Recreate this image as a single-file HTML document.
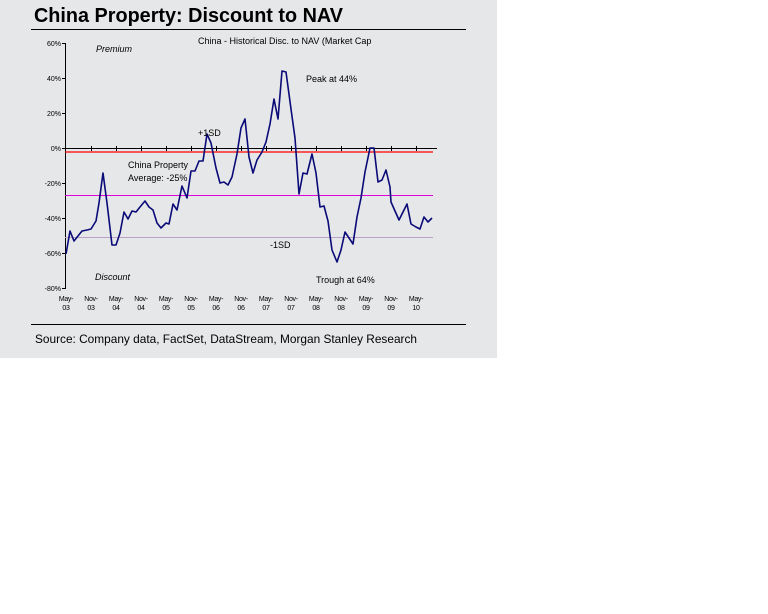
<!DOCTYPE html>
<html><head><style>
body{margin:0;background:#fff;width:768px;height:614px;overflow:hidden}
svg{display:block}
text{font-family:"Liberation Sans",sans-serif}
</style></head><body>
<svg width="768" height="614" xmlns="http://www.w3.org/2000/svg">
<rect x="0" y="0" width="497" height="358" fill="#e6e7e9"/>
<text x="34" y="22" font-size="20" font-weight="bold" fill="#000" textLength="309" lengthAdjust="spacingAndGlyphs">China Property: Discount to NAV</text>
<line x1="31" y1="29.5" x2="466" y2="29.5" stroke="#000" stroke-width="1"/>
<line x1="31" y1="324.5" x2="466" y2="324.5" stroke="#000" stroke-width="1"/>
<text x="35" y="343" font-size="11.7" fill="#000" textLength="382" lengthAdjust="spacingAndGlyphs">Source: Company data, FactSet, DataStream, Morgan Stanley Research</text>
<!-- axes -->
<line x1="65.5" y1="43" x2="65.5" y2="289" stroke="#000"/>
<g stroke="#000">
<line x1="62" y1="43.5" x2="65" y2="43.5"/><line x1="62" y1="78.5" x2="65" y2="78.5"/><line x1="62" y1="113.5" x2="65" y2="113.5"/><line x1="62" y1="148.5" x2="65" y2="148.5"/><line x1="62" y1="183.5" x2="65" y2="183.5"/><line x1="62" y1="218.5" x2="65" y2="218.5"/><line x1="62" y1="253.5" x2="65" y2="253.5"/><line x1="62" y1="288.5" x2="65" y2="288.5"/>
</g>
<g font-size="7" fill="#000" text-anchor="end">
<text x="61" y="46">60%</text><text x="61" y="81">40%</text><text x="61" y="116">20%</text><text x="61" y="151">0%</text><text x="61" y="186">-20%</text><text x="61" y="221">-40%</text><text x="61" y="256">-60%</text><text x="61" y="291">-80%</text>
</g>
<line x1="65" y1="148.5" x2="437" y2="148.5" stroke="#000"/>
<g stroke="#000">
<line x1="91.5" y1="146" x2="91.5" y2="151"/><line x1="116.5" y1="146" x2="116.5" y2="151"/><line x1="141.5" y1="146" x2="141.5" y2="151"/><line x1="166.5" y1="146" x2="166.5" y2="151"/><line x1="191.5" y1="146" x2="191.5" y2="151"/><line x1="216.5" y1="146" x2="216.5" y2="151"/><line x1="241.5" y1="146" x2="241.5" y2="151"/><line x1="266.5" y1="146" x2="266.5" y2="151"/><line x1="291.5" y1="146" x2="291.5" y2="151"/><line x1="316.5" y1="146" x2="316.5" y2="151"/><line x1="341.5" y1="146" x2="341.5" y2="151"/><line x1="366.5" y1="146" x2="366.5" y2="151"/><line x1="391.5" y1="146" x2="391.5" y2="151"/><line x1="416.5" y1="146" x2="416.5" y2="151"/>
</g>
<line x1="65" y1="152" x2="433" y2="152" stroke="#ff0000" stroke-width="1.3"/>
<line x1="65" y1="195.5" x2="433" y2="195.5" stroke="#dd00dd" stroke-width="1"/>
<line x1="65" y1="237.5" x2="433" y2="237.5" stroke="#b9a0c8" stroke-width="1"/>
<g font-size="7" fill="#000" text-anchor="middle" letter-spacing="-0.3">
<text x="66" y="301">May-</text><text x="66" y="310">03</text>
<text x="91" y="301">Nov-</text><text x="91" y="310">03</text>
<text x="116" y="301">May-</text><text x="116" y="310">04</text>
<text x="141" y="301">Nov-</text><text x="141" y="310">04</text>
<text x="166" y="301">May-</text><text x="166" y="310">05</text>
<text x="191" y="301">Nov-</text><text x="191" y="310">05</text>
<text x="216" y="301">May-</text><text x="216" y="310">06</text>
<text x="241" y="301">Nov-</text><text x="241" y="310">06</text>
<text x="266" y="301">May-</text><text x="266" y="310">07</text>
<text x="291" y="301">Nov-</text><text x="291" y="310">07</text>
<text x="316" y="301">May-</text><text x="316" y="310">08</text>
<text x="341" y="301">Nov-</text><text x="341" y="310">08</text>
<text x="366" y="301">May-</text><text x="366" y="310">09</text>
<text x="391" y="301">Nov-</text><text x="391" y="310">09</text>
<text x="416" y="301">May-</text><text x="416" y="310">10</text>
</g>
<polyline fill="none" stroke="#0a0a78" stroke-width="1.6" stroke-linejoin="round" points="66,254 70,231 74,241 78,236 82,231 87,230 91,229 96,221 99,203 103,173 107,203 112,245 116,245 120,233 124,212 128,219 132,211 136,212 140,207 145,201 149,207 153,210 157,223 161,228 166,223 169,224 173,204 177,210 182,186 187,198 191,171 195,171 199,161 203,161 207,134 211,143 216,168 220,183 224,182 228,185 232,177 237,154 241,128 245,119 249,157 253,173 257,160 262,152 266,142 270,124 274,99 278,119 282,71 286,72 291,109 295,138 299,194 303,173 307,174 312,154 316,173 320,207 324,206 328,221 332,250 337,262 341,250 345,232 349,238 353,244 357,217 361,198 365,172 370,148 374,148 378,182 382,180 386,170 390,187 391,202 399,220 407,204 411,224 416,227 420,229 424,217 428,222 432,218"/>
<g font-size="9" fill="#000">
<text x="96" y="52" font-style="italic">Premium</text>
<text x="198" y="44">China - Historical Disc. to NAV (Market Cap</text>
<text x="306" y="82">Peak at 44%</text>
<text x="198" y="136">+1SD</text>
<text x="128" y="168">China Property</text>
<text x="128" y="181">Average: -25%</text>
<text x="270" y="248">-1SD</text>
<text x="95" y="280" font-style="italic">Discount</text>
<text x="316" y="283">Trough at 64%</text>
</g>
</svg>
</body></html>
